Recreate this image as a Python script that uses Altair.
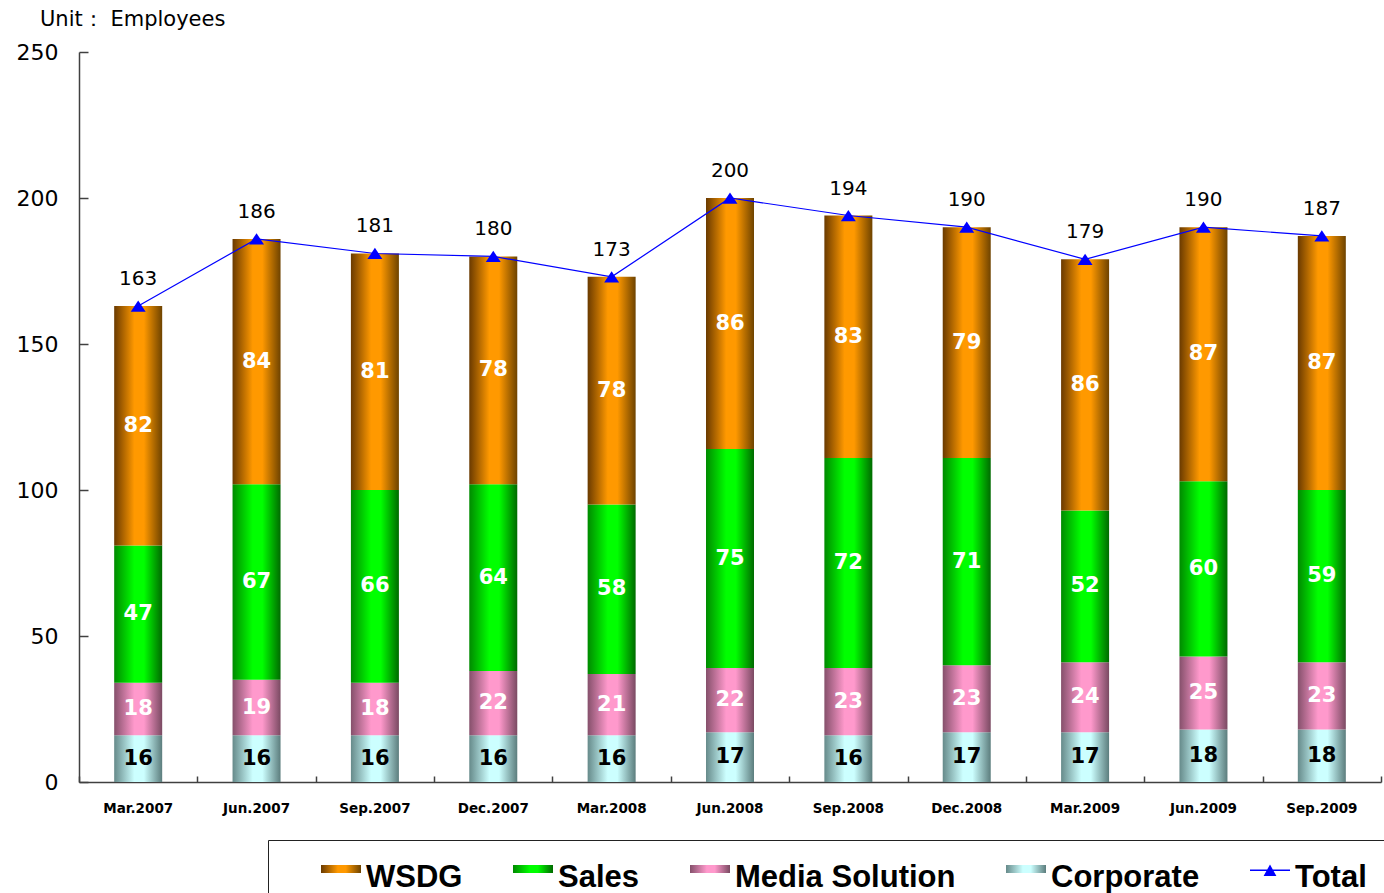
import altair as alt
import pandas as pd

# Quarter-end headcount by division
quarters = ["Mar.2007", "Jun.2007", "Sep.2007", "Dec.2007", "Mar.2008", "Jun.2008",
            "Sep.2008", "Dec.2008", "Mar.2009", "Jun.2009", "Sep.2009"]
corporate = [16, 16, 16, 16, 16, 17, 16, 17, 17, 18, 18]
media_solution = [18, 19, 18, 22, 21, 22, 23, 23, 24, 25, 23]
sales = [47, 67, 66, 64, 58, 75, 72, 71, 52, 60, 59]
wsdg = [82, 84, 81, 78, 78, 86, 83, 79, 86, 87, 87]
totals = [163, 186, 181, 180, 173, 200, 194, 190, 179, 190, 187]

series_order = ["Corporate", "Media Solution", "Sales", "WSDG"]
legend_domain = ["WSDG", "Sales", "Media Solution", "Corporate", "Total"]

rows = []
for i, q in enumerate(quarters):
    for k, (name, vals) in enumerate(zip(series_order, [corporate, media_solution, sales, wsdg])):
        rows.append({"quarter": q, "series": name, "value": vals[i], "order": k})
seg = pd.DataFrame(rows)
tot = pd.DataFrame({"quarter": quarters, "total": totals, "key": ["Total"] * len(quarters)})

# cylinder-like horizontal shading per division: (edge left, highlight, edge right)
shades = {
    "WSDG": ("#6a3a00", "#ff9900", "#6e4300"),
    "Sales": ("#008a00", "#00ff00", "#006a00"),
    "Media Solution": ("#85506b", "#ff99cc", "#7a4a62"),
    "Corporate": ("#668a8a", "#ccffff", "#5c7d7d"),
}


def grad(name):
    a, b, c = shades[name]
    return alt.LinearGradient(
        gradient="linear", x1=0, y1=0, x2=1, y2=0,
        stops=[
            alt.GradientStop(offset=0, color=a),
            alt.GradientStop(offset=0.42, color=b),
            alt.GradientStop(offset=0.62, color=b),
            alt.GradientStop(offset=1, color=c),
        ],
    )


def grad_expr(name):
    a, b, c = shades[name]
    return ("{gradient:'linear',x1:0,y1:0,x2:1,y2:0,stops:["
            f"{{offset:0,color:'{a}'}},{{offset:0.42,color:'{b}'}},"
            f"{{offset:0.62,color:'{b}'}},{{offset:1,color:'{c}'}}]}}")


# legend swatch fill: shaded per division, plain blue for the total
fill_expr = (
    "datum.value === 'WSDG' ? " + grad_expr("WSDG") +
    " : datum.value === 'Sales' ? " + grad_expr("Sales") +
    " : datum.value === 'Media Solution' ? " + grad_expr("Media Solution") +
    " : datum.value === 'Corporate' ? " + grad_expr("Corporate") +
    " : '#0000ff'"
)

# legend glyphs: a flat swatch for the divisions, thin line + triangle for the total
rect_path = "M-1,-0.65H1V-0.25H-1Z"
total_path = "M-1,-0.43H1V-0.35H-1Z M0,-0.68L0.32,-0.1L-0.32,-0.1Z"
triangle = "M0,-0.75L1,0.75L-1,0.75Z"

legend = alt.Legend(
    orient="none", legendX=189, legendY=788, direction="horizontal",
    title=" ", titleOrient="left", titlePadding=35, titleFontSize=20,
    strokeColor="#222222", padding=18,
    labelFont="Liberation Sans", labelFontSize=31, labelFontWeight="bold",
    labelColor="#000000", labelOffset=5, labelLimit=400, columnPadding=50,
    symbolSize=1600, symbolOpacity=1, symbolStrokeWidth=0,
    symbolFillColor={"expr": fill_expr},
)

xscale = alt.Scale(domain=quarters, paddingInner=0, paddingOuter=0)
yscale = alt.Scale(domain=[0, 250], nice=False)

x_main = alt.Axis(title=None, ticks=False, domainColor="#404040", domainWidth=1.5,
                  labelFont="DejaVu Sans", labelFontSize=13.5, labelFontWeight="bold",
                  labelColor="#000000", labelPadding=19, labelAngle=0, grid=False)
y_main = alt.Axis(title=None, ticks=False, values=[0, 50, 100, 150, 200, 250],
                  domainColor="#404040", domainWidth=1.5,
                  labelFont="DejaVu Sans", labelFontSize=22, labelColor="#000000",
                  labelPadding=21, grid=False)
x_ticks = alt.Axis(title=None, orient="bottom", offset=-6, tickSize=6, tickBand="extent",
                   tickColor="#404040", tickWidth=1.5, domain=False, labels=False, grid=False)
y_ticks = alt.Axis(title=None, orient="left", offset=-9, tickSize=9,
                   values=[0, 50, 100, 150, 200, 250], tickColor="#404040",
                   tickWidth=1.5, domain=False, labels=False, grid=False)

cond = [alt.ConditionalPredicateValueDefGradientstringnullExprRef(
            test=f"datum.series === '{s}'", value=grad(s)) for s in series_order[:3]]

base = alt.Chart(seg).transform_stack(
    stack="value", groupby=["quarter"], as_=["y0", "y1"],
    sort=[alt.SortField("order", order="ascending")],
).transform_calculate(mid="(datum.y0 + datum.y1) / 2")

bars = base.mark_bar(size=48).encode(
    x=alt.X("quarter:N", scale=xscale, axis=x_main, sort=quarters),
    y=alt.Y("y0:Q", scale=yscale, axis=y_main),
    y2="y1:Q",
    fill=alt.FillValue(value=grad("WSDG"), condition=cond),
)

seg_labels = base.mark_text(font="DejaVu Sans", fontSize=21, fontWeight="bold",
                            baseline="middle").encode(
    x=alt.X("quarter:N", scale=xscale, axis=None, sort=quarters),
    y=alt.Y("mid:Q", scale=yscale, axis=None),
    text="value:Q",
    color=alt.condition("datum.series === 'Corporate'", alt.value("#000000"), alt.value("#ffffff")),
)

tbase = alt.Chart(tot)
line = tbase.mark_line(color="#0000ff", strokeWidth=1.2).encode(
    x=alt.X("quarter:N", scale=xscale, axis=x_ticks, sort=quarters),
    y=alt.Y("total:Q", scale=yscale, axis=y_ticks),
)
pts = tbase.mark_point(shape=triangle, size=225, filled=True, color="#0000ff", opacity=1).encode(
    x=alt.X("quarter:N", scale=xscale, axis=None, sort=quarters),
    y=alt.Y("total:Q", scale=yscale, axis=None),
)
# zero-size symbols whose shape scale carries the legend
key = tbase.mark_point(size=0, filled=True, fill={"expr": fill_expr}, opacity=1).encode(
    x=alt.X("quarter:N", scale=xscale, axis=None, sort=quarters),
    y=alt.Y("total:Q", scale=yscale, axis=None),
    shape=alt.Shape("key:N", scale=alt.Scale(domain=legend_domain,
                                             range=[rect_path] * 4 + [total_path]),
                    legend=legend),
)
tot_labels = tbase.mark_text(font="DejaVu Sans", fontSize=20, dy=-27,
                             color="#000000", baseline="middle").encode(
    x=alt.X("quarter:N", scale=xscale, axis=None, sort=quarters),
    y=alt.Y("total:Q", scale=yscale, axis=None),
    text="total:Q",
)

chart = alt.layer(bars, seg_labels, line, pts, key, tot_labels).resolve_axis(
    x="independent", y="independent"
).properties(
    width=1302, height=730,
    autosize=alt.AutoSizeParams(type="none"),
    padding={"left": 79, "top": 52, "right": 3, "bottom": 111},
    title=alt.TitleParams("Unit\uff1a Employees", anchor="start", frame="group", dx=-39,
                          offset=0, baseline="middle", font="DejaVu Sans",
                          fontSize=21, fontWeight="normal", color="#000000"),
).configure_view(stroke=None)

chart.save("out.html", embed_options={"renderer": "svg", "actions": False})
